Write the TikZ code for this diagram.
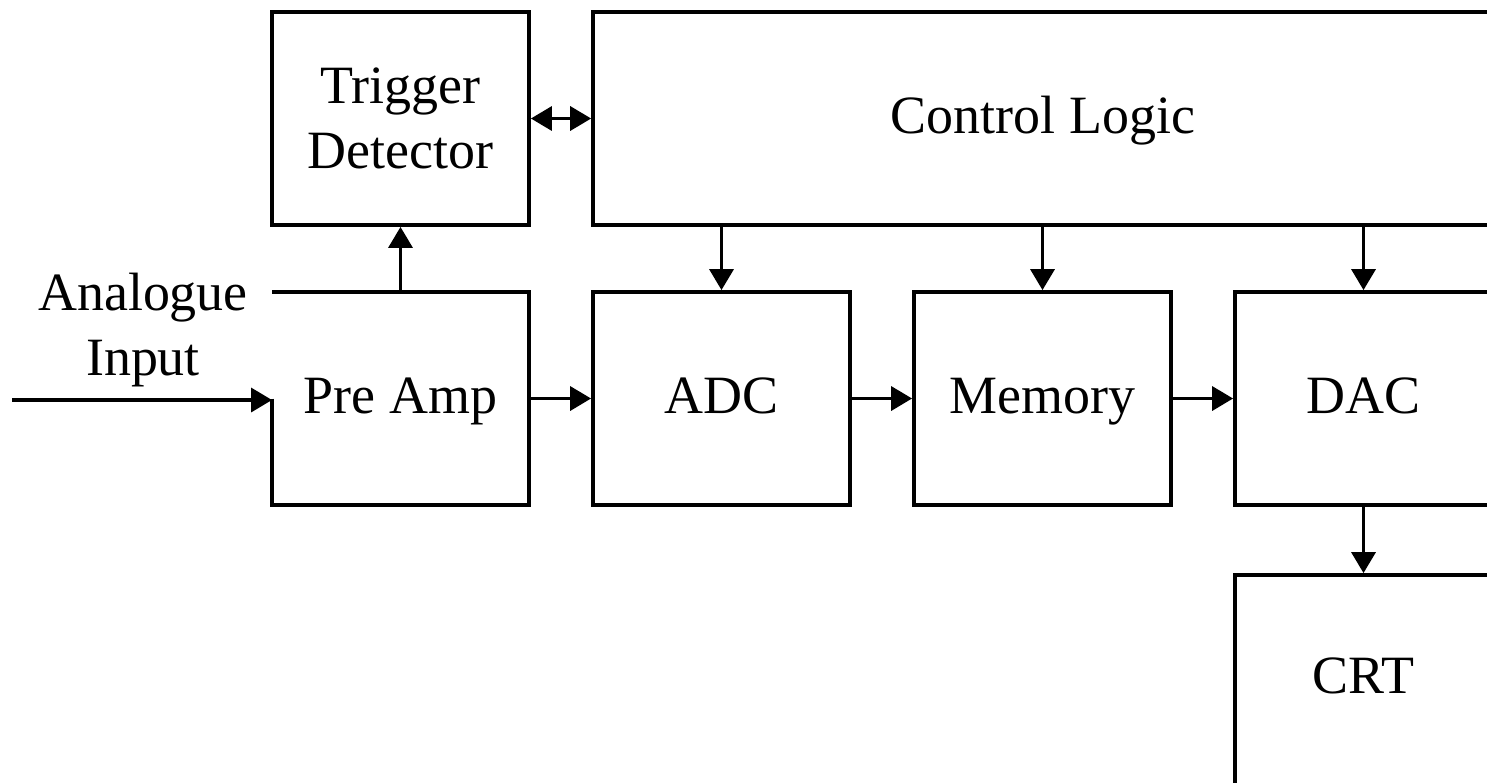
\documentclass[tikz,border=0pt]{standalone}
\usepackage{fontspec}
\setmainfont{Liberation Serif}
\usetikzlibrary{arrows.meta}
\tikzset{>={Triangle[length=4.2mm,width=4.8mm]}}
\tikzset{blk/.style={draw=black, line width=2.2pt, minimum width=5.14cm, minimum height=4.26cm, inner sep=0pt, font=\fontsize{30.7}{37}\selectfont},
  oneline/.style={text height=20pt, text depth=3pt},
  lbl/.style={align=center, inner sep=0pt, font=\fontsize{30.7}{37}\selectfont},
  wire/.style={line width=2pt, ->}}

\begin{document}
\begin{tikzpicture}[x=0.02cm, y=-0.02cm]
\useasboundingbox (0,0) rectangle (1487,782);
\clip (0,0) rectangle (1487,782);
\fill[white] (0,0) rectangle (1487,782);

% top row
\node[blk, align=center] (trig) at (400.5,118.5) {Trigger\\Detector};
\node[blk, oneline, minimum width=18cm] (ctrl) at (1043,118.5) {Control Logic};

% signal chain
\node[blk, oneline, draw=none, outer sep=0pt] (preamp) at (400.5,398.5) {Pre Amp};
\draw[line width=2.2pt] (preamp.west) |- (preamp.south east) |- (preamp.north west);
\node[blk, oneline] (adc) at (721.5,398.5) {ADC};
\node[blk, oneline] (mem) at (1042.5,398.5) {Memory};
\node[blk, oneline] (dac) at (1363.5,398.5) {DAC};
\node[blk, oneline, text depth=6.8pt] (crt) at (1363.5,681.5) {CRT};

% input
\node[lbl] (inlbl) at (143,330) {Analogue\\Input};
\coordinate (src) at (12,400);

\draw[wire] (src) -- (src -| preamp.west);
\draw[wire] (preamp.east) -- (adc);
\draw[wire] (adc) -- (mem);
\draw[wire] (mem) -- (dac);
\draw[wire] (preamp.north) -- (trig.south);
\draw[wire, <->] (trig.east) -- (ctrl.west);

\foreach \b in {adc, mem, dac}{
  \draw[wire] (ctrl.south -| \b.north) -- (\b.north);
}
\draw[wire] (dac.south) -- (crt.north);

\end{tikzpicture}
\end{document}
